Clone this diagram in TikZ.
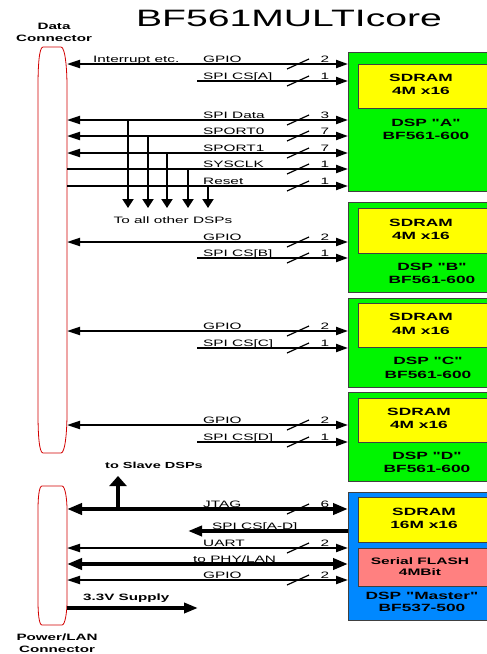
\documentclass[tikz,border=0pt]{standalone}
\usepackage{fontspec}
\setmainfont{Liberation Sans}[FakeStretch=1.65, Ligatures=TeXOff]
\usetikzlibrary{arrows.meta}
\definecolor{dspgreen}{RGB}{0,245,0}
\definecolor{sdyellow}{RGB}{255,255,0}
\definecolor{mblue}{RGB}{0,136,255}
\definecolor{flashred}{RGB}{255,128,128}
\definecolor{conred}{RGB}{210,0,0}
\tikzset{
  titlef/.style={font=\fontsize{23.7}{26}\selectfont, inner sep=0pt},
  lbl/.style={font=\fontsize{9.3}{10}\selectfont, anchor=base west, inner sep=0pt},
  numlbl/.style={font=\fontsize{9.3}{10}\selectfont, anchor=base, inner sep=0pt},
  btext/.style={font=\bfseries\fontsize{10.5}{13.5}\selectfont, align=center, inner sep=0pt},
  ctext/.style={font=\bfseries\fontsize{9.2}{11.5}\selectfont, align=center, inner sep=0pt},
  gbox/.style={draw=black!75, line width=0.8pt, fill=dspgreen, anchor=north west, minimum width=160pt, inner sep=0pt},
  bbox/.style={draw=black!75, line width=0.8pt, fill=mblue, anchor=north west, minimum width=160pt, inner sep=0pt},
  ybox/.style={draw=black!75, line width=0.8pt, fill=sdyellow, anchor=north west, minimum width=150pt, inner sep=0pt},
  fbox/.style={draw=black!75, line width=0.8pt, fill=flashred, anchor=north west, minimum width=150pt, inner sep=0pt},
  conn/.style={draw=conred, line width=0.8pt},
  sig/.style={line width=2pt},
  sigR/.style={sig, -{Triangle[length=12pt,width=8pt]}},
  sigB/.style={sig, {Triangle[length=13pt,width=8pt]}-{Triangle[length=12pt,width=8pt]}},
  thkB/.style={line width=4pt, {Triangle[length=15pt,width=11pt]}-{Triangle[length=15pt,width=11pt]}},
  thkR/.style={line width=4pt, -{Triangle[length=14pt,width=10pt]}},
  dropA/.style={sig, -{Triangle[length=9pt,width=11pt]}},
  upA/.style={line width=4.5pt, -{Triangle[length=10pt,width=17pt]}},
  busw/.pic={\draw[line width=1.2pt] (-11,5) -- (11,-5);
             \node[numlbl] (n) at (27,-1.5) {#1};}
}
\begin{document}
\begin{tikzpicture}[x=1pt,y=-1pt]
\useasboundingbox (0,0) rectangle (487,654);
\clip (0,0) rectangle (487,654);

% title
\node[titlef] (title) at (289,18.5) {BF561MULTIcore};

% connectors
\draw[conn] (43,47) -- (61,47) .. controls (65,47) and (67,67) .. (67,87) -- (67,413)
  .. controls (67,433) and (65,453) .. (61,453) -- (43,453)
  .. controls (39,453) and (38,433) .. (38,413) -- (38,87)
  .. controls (38,67) and (39,47) .. (43,47) -- cycle;
\node[ctext] (dconlbl) at (54,32.5) {Data\\Connector};
\draw[conn] (42,486) -- (62,486) .. controls (65,486) and (67,498) .. (67,510) -- (67,601)
  .. controls (67,613) and (65,625) .. (62,625) -- (42,625)
  .. controls (39,625) and (38,613) .. (38,601) -- (38,510)
  .. controls (38,498) and (39,486) .. (42,486) -- cycle;
\node[ctext, font=\bfseries\fontsize{9.2}{12}\selectfont] (pconlbl) at (57,643) {Power/LAN\\Connector};

% DSP boxes
\node[gbox, minimum height=139pt] (dspA) at (348,52) {};
\node[ybox, minimum height=44pt] (sdA) at (358,64) {};
\node[btext] (sdAt) at (421,84.5) {SDRAM\\4M x16};
\node[btext] (dspAt) at (426,129.5) {DSP "A"\\BF561-600};

\node[gbox, minimum height=90pt] (dspB) at (348,202) {};
\node[ybox, minimum height=45pt] (sdB) at (358,208) {};
\node[btext] (sdBt) at (421,229.5) {SDRAM\\4M x16};
\node[btext] (dspBt) at (432,273.5) {DSP "B"\\BF561-600};

\node[gbox, minimum height=89pt] (dspC) at (348,298) {};
\node[ybox, minimum height=44pt] (sdC) at (358,303) {};
\node[btext] (sdCt) at (421,324) {SDRAM\\4M x16};
\node[btext] (dspCt) at (428,368) {DSP "C"\\BF561-600};

\node[gbox, minimum height=89pt] (dspD) at (348,392) {};
\node[ybox, minimum height=44pt] (sdD) at (358,398) {};
\node[btext] (sdDt) at (419,418.5) {SDRAM\\4M x16};
\node[btext] (dspDt) at (427,462.5) {DSP "D"\\BF561-600};

\node[bbox, minimum height=128pt] (mbox) at (348,492) {};
\node[ybox, minimum height=45pt] (sdM) at (358,497) {};
\node[fbox, minimum height=38pt] (flM) at (358,548) {};
\node[btext] (sdMt) at (424,518.5) {SDRAM\\16M x16};
\node[btext, font=\bfseries\fontsize{9.4}{11.5}\selectfont] (flMt) at (420,566.5) {Serial FLASH\\4MBit};
\node[btext, font=\bfseries\fontsize{10.5}{12.5}\selectfont] (dspMt) at (422,602) {DSP "Master"\\BF537-500};

% ---- DSP A signals
\coordinate (cA1) at (67,64);
\coordinate (sA) at (197,81);
\coordinate (cA3) at (67,120);
\coordinate (cA4) at (67,136);
\coordinate (cA5) at (67,153);
\coordinate (cA6) at (67,169);
\coordinate (cA7) at (67,186);
\draw[sigB] (cA1) -- (dspA.west |- cA1);
\draw[sigR] (sA) -- (dspA.west |- sA);
\draw[sigB] (cA3) -- (dspA.west |- cA3);
\draw[sigB] (cA4) -- (dspA.west |- cA4);
\draw[sigB] (cA5) -- (dspA.west |- cA5);
\draw[sigR] (cA6) -- (dspA.west |- cA6);
\draw[sigR] (cA7) -- (dspA.west |- cA7);
\node[lbl] (lInt) at (93,62.5) {Interrupt etc.};
\node[lbl] (lA1) at (203,62.5) {GPIO};
\node[lbl] (lA2) at (203,79.5) {SPI CS[A]};
\node[lbl] (lA3) at (203,118.5) {SPI Data};
\node[lbl] (lA4) at (203,134.5) {SPORT0};
\node[lbl] (lA5) at (203,151.5) {SPORT1};
\node[lbl] (lA6) at (203,167.5) {SYSCLK};
\node[lbl] (lA7) at (203,184.5) {Reset};
\pic (wA1) at (298,64) {busw=2};
\pic (wA2) at (298,81) {busw=1};
\pic (wA3) at (298,120) {busw=3};
\pic (wA4) at (298,136) {busw=7};
\pic (wA5) at (298,153) {busw=7};
\pic (wA6) at (298,169) {busw=1};
\pic (wA7) at (298,186) {busw=1};

% drops to other DSPs
\coordinate (d1) at (128,208);
\coordinate (d2) at (148,208);
\coordinate (d3) at (167,208);
\coordinate (d4) at (188,208);
\coordinate (d5) at (208,208);
\draw[dropA] (d1 |- cA3) -- (d1);
\draw[dropA] (d2 |- cA4) -- (d2);
\draw[dropA] (d3 |- cA5) -- (d3);
\draw[dropA] (d4 |- cA6) -- (d4);
\draw[dropA] (d5 |- cA7) -- (d5);
\node[lbl, anchor=center] (lall) at (173,220) {To all other DSPs};

% ---- DSP B
\coordinate (cB1) at (67,242);
\coordinate (sB) at (197,258);
\draw[sigB] (cB1) -- (dspB.west |- cB1);
\draw[sigR] (sB) -- (dspB.west |- sB);
\node[lbl] (lB1) at (203,240.5) {GPIO};
\node[lbl] (lB2) at (203,256.5) {SPI CS[B]};
\pic (wB1) at (298,242) {busw=2};
\pic (wB2) at (298,258) {busw=1};

% ---- DSP C
\coordinate (cC1) at (67,331);
\coordinate (sC) at (197,348);
\draw[sigB] (cC1) -- (dspC.west |- cC1);
\draw[sigR] (sC) -- (dspC.west |- sC);
\node[lbl] (lC1) at (203,329.5) {GPIO};
\node[lbl] (lC2) at (203,346.5) {SPI CS[C]};
\pic (wC1) at (298,331) {busw=2};
\pic (wC2) at (298,348) {busw=1};

% ---- DSP D
\coordinate (cD1) at (67,425);
\coordinate (sD) at (197,442);
\draw[sigB] (cD1) -- (dspD.west |- cD1);
\draw[sigR] (sD) -- (dspD.west |- sD);
\node[lbl] (lD1) at (203,423.5) {GPIO};
\node[lbl] (lD2) at (203,440.5) {SPI CS[D]};
\pic (wD1) at (298,425) {busw=2};
\pic (wD2) at (298,442) {busw=1};

% ---- Master
\coordinate (cM1) at (67,509);
\coordinate (sM) at (188,531);
\coordinate (cM3) at (67,548);
\coordinate (cM4) at (67,564);
\coordinate (cM5) at (67,580);
\coordinate (up) at (118,476);
\coordinate (p1) at (67,608);
\coordinate (p2) at (198,608);
\draw[thkB] (cM1) -- (mbox.west |- cM1);
\draw[upA] (up |- cM1) -- (up);
\draw[thkR] (mbox.west |- sM) -- (sM);
\draw[sigB] (cM3) -- (mbox.west |- cM3);
\draw[thkB] (cM4) -- (mbox.west |- cM4);
\draw[sigB] (cM5) -- (mbox.west |- cM5);
\draw[thkR] (p1) -- (p2);
\node[lbl] (lM1) at (203,507) {JTAG};
\node[lbl] (lM2) at (212,529) {SPI CS[A-D]};
\node[lbl] (lM3) at (203,546.5) {UART};
\node[lbl] (lM4) at (193,562) {to PHY/LAN};
\node[lbl] (lM5) at (203,578.5) {GPIO};
\pic (wM1) at (298,509) {busw=6};
\pic (wM3) at (298,548) {busw=2};
\pic (wM5) at (298,580) {busw=2};
\node[ctext, font=\bfseries\fontsize{8.8}{10}\selectfont] (lslave) at (154,465) {to Slave DSPs};
\node[ctext, anchor=west] (lsup) at (83,598) {3.3V Supply};
\end{tikzpicture}
\end{document}
